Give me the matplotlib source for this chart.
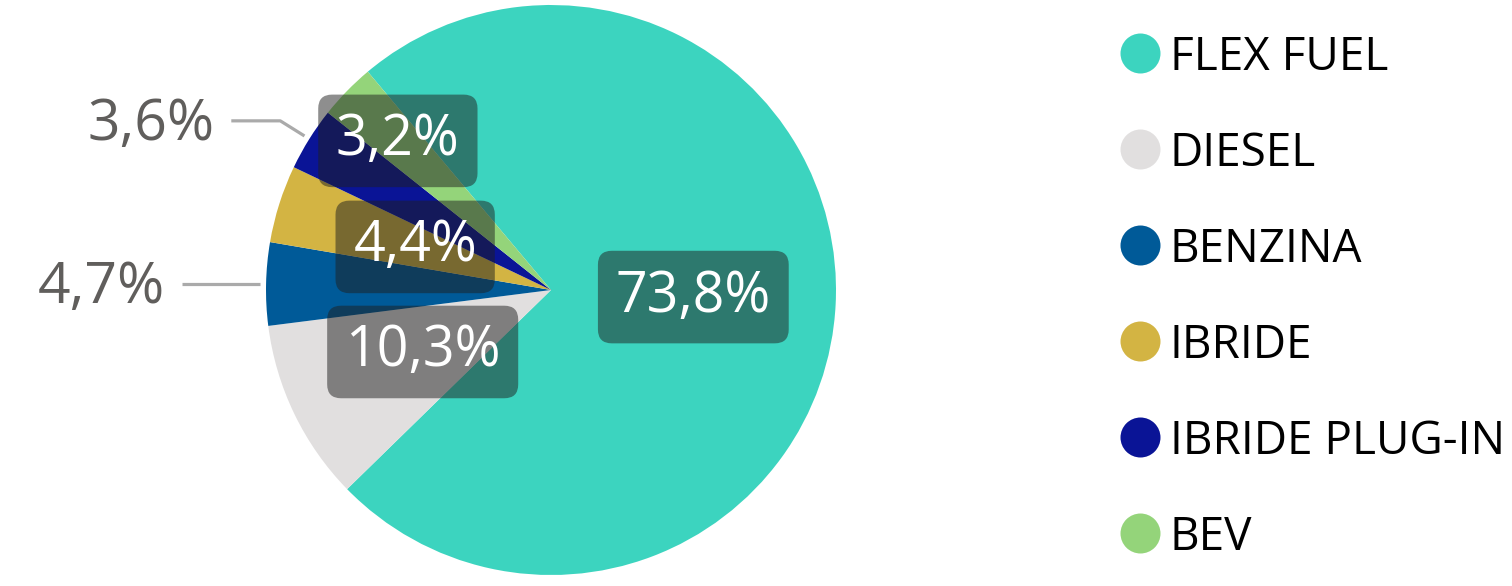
import numpy as np
import matplotlib
matplotlib.use("Agg")
import matplotlib.pyplot as plt

categories = ["FLEX FUEL", "DIESEL", "BENZINA", "IBRIDE", "IBRIDE PLUG-IN", "BEV"]
values = [73.8, 10.3, 4.7, 4.4, 3.6, 3.2]
colors = ["#3CD4BF", "#E1DFDF", "#005A98", "#D3B443", "#0A1496", "#94D47A"]
inside = [True, True, False, True, False, True]

W, H = 1512, 586
fig = plt.figure(figsize=(W / 100, H / 100), dpi=100)
ax = fig.add_axes([0, 0, 1, 1])
FONT = "Open Sans"

cx, cy, R = 551, H - 290, 285
start = 130
ax.pie(values, colors=colors, startangle=start, counterclock=False,
       center=(cx, cy), radius=R, wedgeprops=dict(linewidth=0))
ax.set_xlim(0, W)
ax.set_ylim(0, H)
ax.set_aspect("equal")
ax.axis("off")

total = sum(values)
a0 = start
label_r = {0: 0.5, 1: 0.5, 3: 0.5, 5: 0.75}
for i, v in enumerate(values):
    ext = v / total * 360
    mid = np.deg2rad(a0 - ext / 2)
    a0 -= ext
    txt = f"{v:.1f}%".replace(".", ",")
    if inside[i]:
        r = label_r.get(i, 0.5) * R
        x, y = cx + r * np.cos(mid), cy + r * np.sin(mid)
        ax.text(x, y, txt, ha="center", va="center", color="white",
                fontsize=40, family=FONT,
                bbox=dict(boxstyle="round,pad=0.32,rounding_size=0.25",
                          fc=(0.12, 0.12, 0.12, 0.5), ec="none"))
    else:
        ex, ey = cx + 1.02 * R * np.cos(mid), cy + 1.02 * R * np.sin(mid)
        if abs(np.sin(mid)) < 0.1:
            pts = [(ex, ey), (ex - 78, ey)]
        else:
            kx, ky = cx + 1.12 * R * np.cos(mid), cy + 1.12 * R * np.sin(mid)
            pts = [(ex, ey), (kx, ky), (kx - 49, ky)]
        xs, ys = zip(*pts)
        ax.plot(xs, ys, color="#AAAAAA", lw=2.3, solid_capstyle="butt")
        ax.text(xs[-1] - 17, ys[-1] - 5, txt, ha="right", va="center",
                color="#605E5C", fontsize=41, family=FONT)

# legend
ly0, lpitch = H - 53, 96
for i, (name, c) in enumerate(zip(categories, colors)):
    y = ly0 - i * lpitch
    ax.scatter([1140], [y], s=829, color=c, linewidths=0)
    ax.text(1170, y - 17, name, ha="left", va="baseline", color="black",
            fontsize=33, family=FONT)

fig.savefig("out.png", dpi=100)
